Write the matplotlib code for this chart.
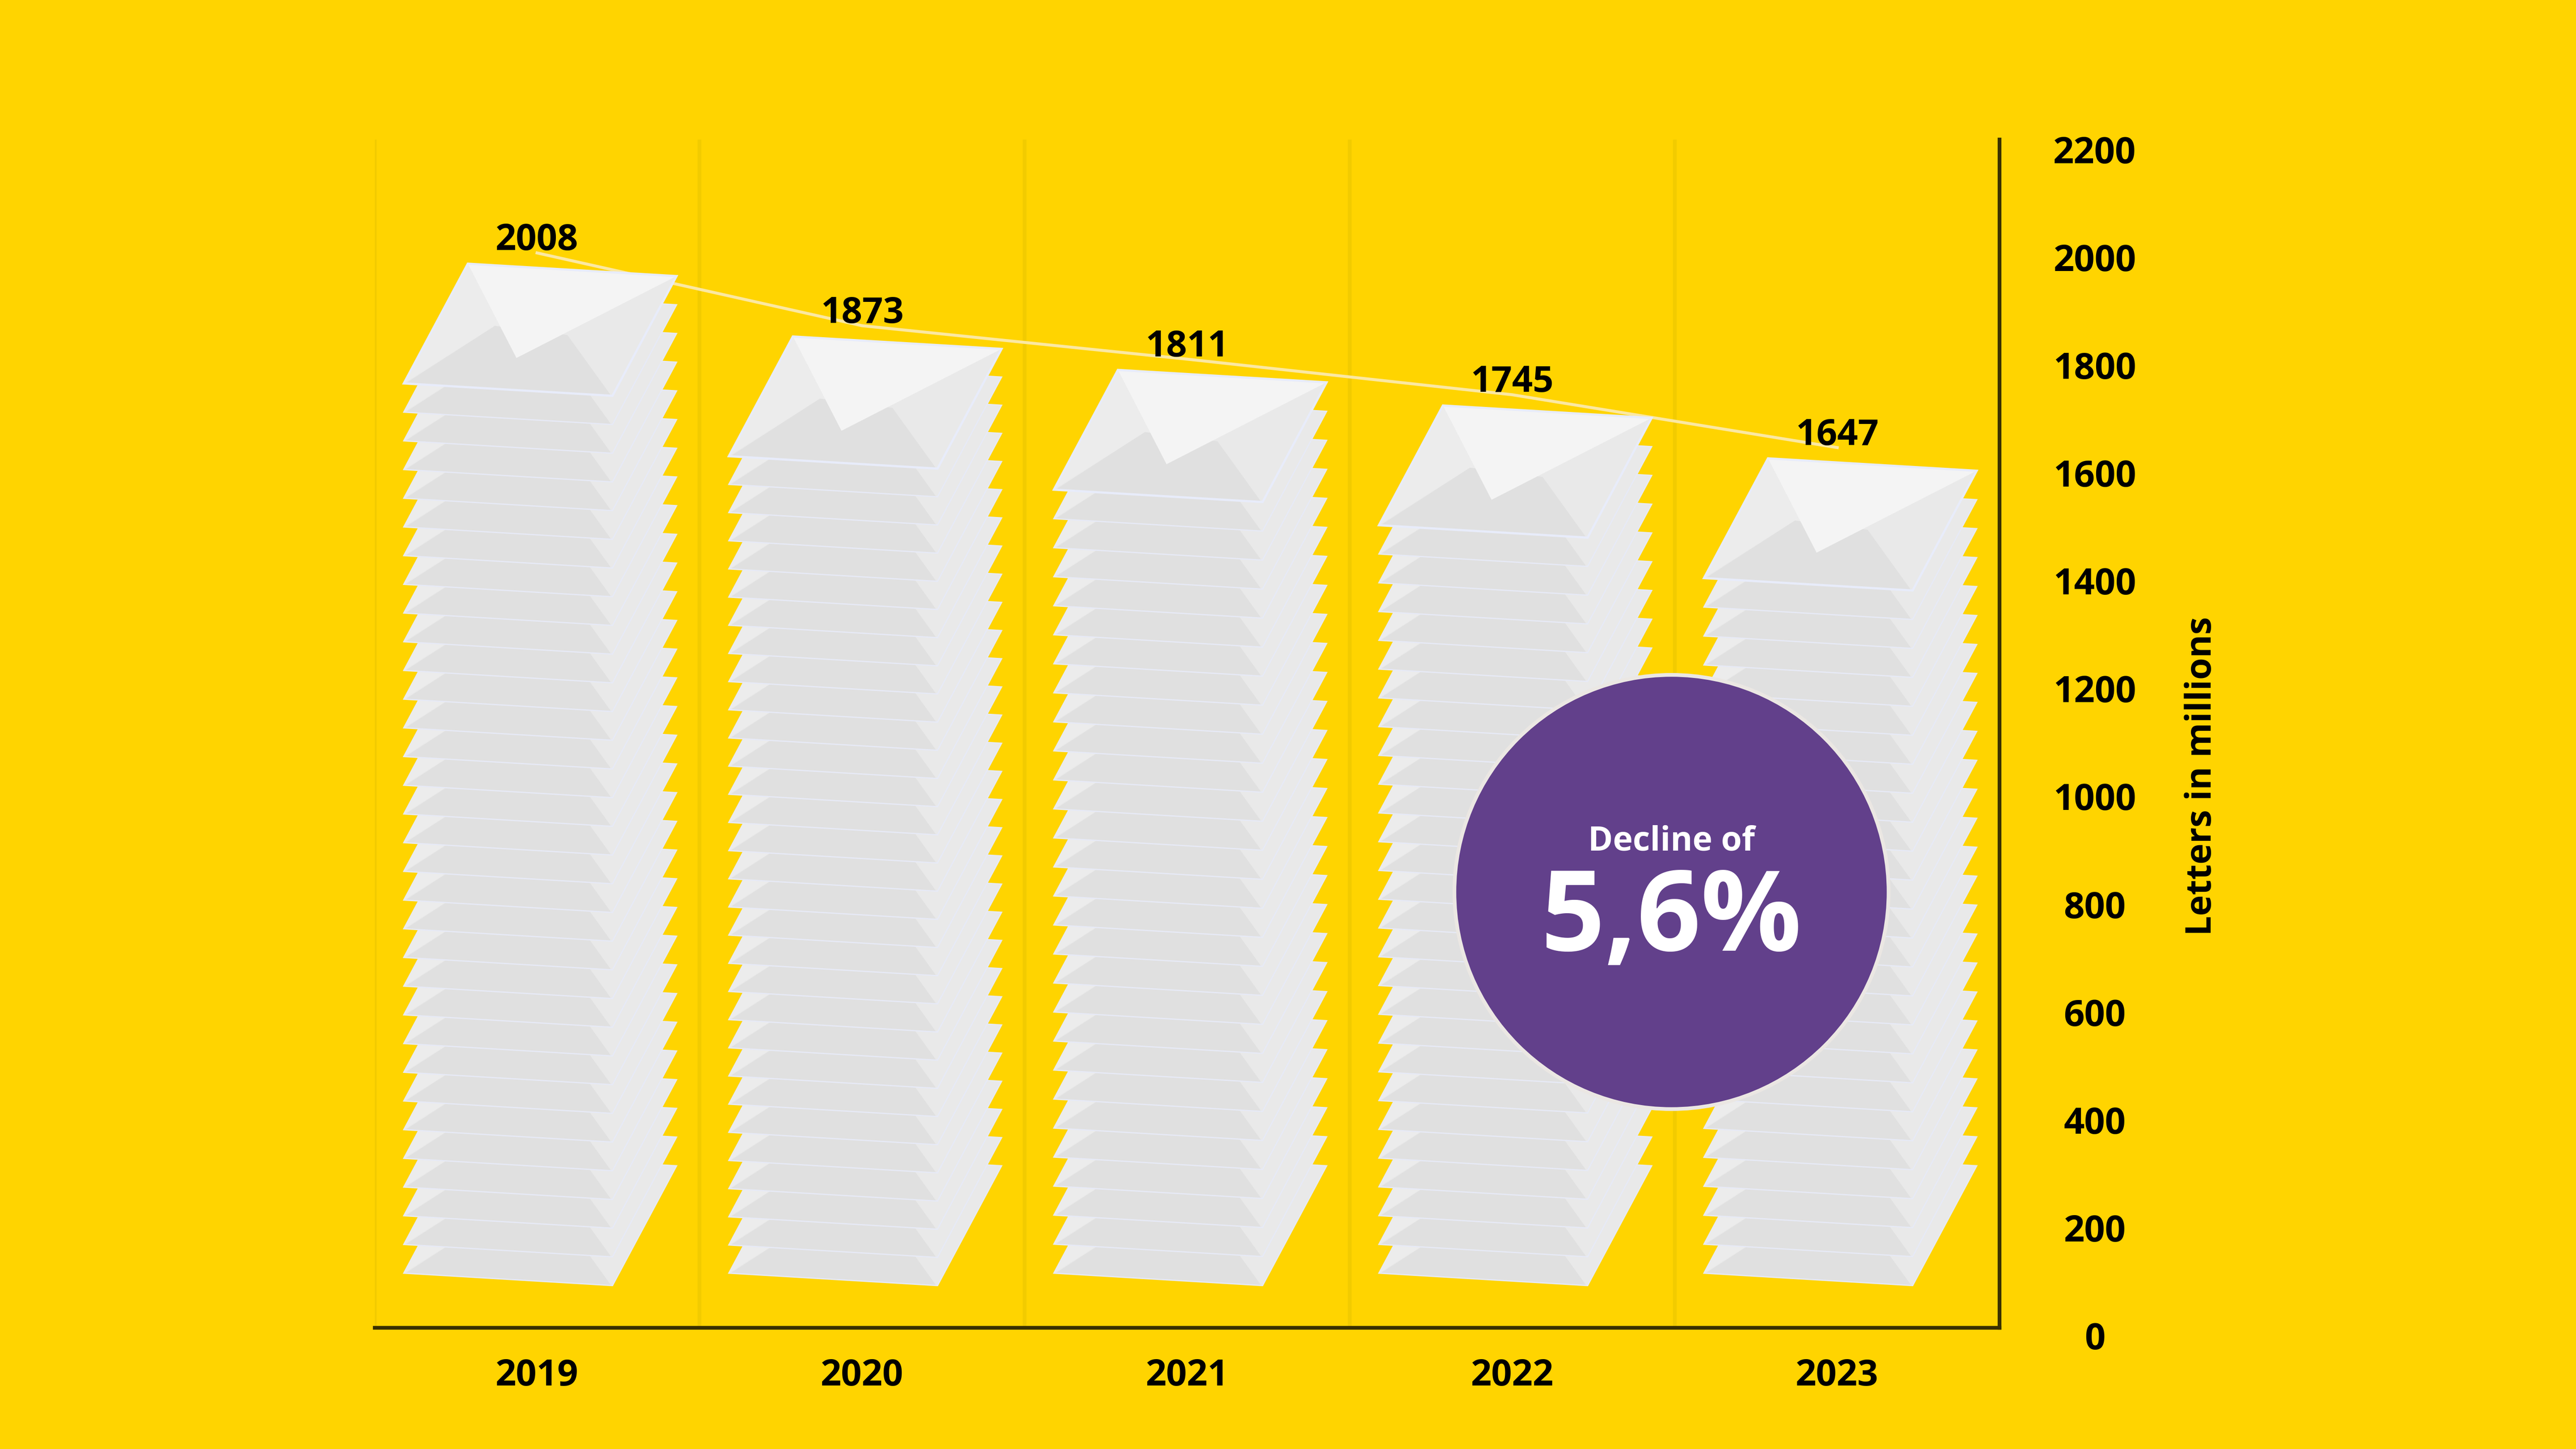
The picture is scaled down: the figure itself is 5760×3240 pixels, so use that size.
import numpy as np
import matplotlib
matplotlib.use("Agg")  # no display
import matplotlib.pyplot as plt
from matplotlib.patches import Polygon

# data
years = ["2019", "2020", "2021", "2022", "2023"]
letters = [2008, 1873, 1811, 1745, 1647]   # letters in millions
y_ticks = [0, 200, 400, 600, 800, 1000, 1200, 1400, 1600, 1800, 2000, 2200]
decline_text = "5,6%"

BG = "#ffd400"
PURPLE = "#62408b"

plt.rcParams["font.family"] = ["Open Sans", "DejaVu Sans"]
plt.rcParams["font.weight"] = "bold"

# envelope geometry in data units (x: category units, y: millions)
X0 = -0.41                       # front-left corner relative to category centre
W = np.array([0.642, -23.0])     # front edge vector
D = np.array([0.197, 222.0])     # depth vector (front -> back)
BASE = 116                       # front-left corner of lowest envelope
STEP = 53                        # approx. vertical spacing of envelopes
Y_TOP = 2218                     # top of the right spine
Y_FLOOR = 15                     # where the bottom spine sits


def env_poly(p0, uv, **kw):
    pts = [p0 + u * W + t * D for u, t in uv]
    return Polygon(pts, closed=True, **kw)


def draw_envelope(ax, p0, top=False):
    ax.add_patch(env_poly(p0, [(0, 0), (1, 0), (1, 1), (0, 1)],
                          facecolor="#e9e9e9", edgecolor="#e7eaf6", lw=0.7, zorder=3))
    # left side flap a bit lighter
    ax.add_patch(env_poly(p0, [(0, 0), (0, 1), (0.46, 0.26), (0.28, 0.51)],
                          facecolor="#ececec", edgecolor="none", zorder=3))
    # bottom flap
    ax.add_patch(env_poly(p0, [(0.01, 0.005), (0.99, 0.005), (0.64, 0.47), (0.28, 0.51)],
                          facecolor="#e0e0e0", edgecolor="none", zorder=3))
    if top:
        # closed back flap
        ax.add_patch(env_poly(p0, [(0, 1), (1, 1), (0.46, 0.26)],
                              facecolor="#f4f4f4", edgecolor="none", zorder=3))
        ax.add_patch(env_poly(p0, [(0, 0), (1, 0), (1, 1), (0, 1)],
                              facecolor="none", edgecolor="#e8ecfa", lw=1.2, zorder=3))


fig = plt.figure(figsize=(19.2, 10.8), dpi=300, facecolor=BG)
ax = fig.add_axes([0.1454, 0.0782, 0.6309, 0.8254])
ax.set_facecolor(BG)
ax.set_xlim(-0.5, 4.5)
ax.set_ylim(0, Y_TOP)

# category separators
ax.vlines(np.arange(-0.5, 4.0, 1.0), Y_FLOOR, Y_TOP, color="#f2cb00", lw=2.0, zorder=0)

# trend line behind the stacks
ax.plot(range(len(years)), letters, color="#fbe8a2", lw=1.6, zorder=2)

for i, v in enumerate(letters):
    top_y = v - 20 - D[1]
    n = int(round((top_y - BASE) / STEP)) + 1
    for k, y0 in enumerate(np.linspace(BASE, top_y, n)):
        draw_envelope(ax, np.array([i + X0, y0]), top=(k == n - 1))
    ax.annotate(f"{v}", (i, v), xytext=(0, 1.5), textcoords="offset points",
                ha="center", va="baseline", fontsize=19.5, fontweight="bold",
                color="black", zorder=5)

# axes styling
ax.set_xticks(range(len(years)), years)
ax.set_yticks(y_ticks)
ax.tick_params(axis="x", which="both", length=0, pad=16.5, labelsize=19.5)
ax.tick_params(axis="y", which="both", length=0, left=False, right=False,
               labelleft=False, labelright=True, pad=51, labelsize=19.5)
plt.setp(ax.get_yticklabels(), ha="center")

for side in ["left", "top"]:
    ax.spines[side].set_visible(False)
for side in ["right", "bottom"]:
    ax.spines[side].set_color("#3a3000")
    ax.spines[side].set_linewidth(2.0)
ax.spines["bottom"].set_position(("data", Y_FLOOR))
ax.spines["right"].set_bounds(Y_FLOOR, Y_TOP)

ax.text(1.1244, 0.468, "Letters in millions", rotation=90, transform=ax.transAxes,
        ha="center", va="center", fontsize=19, fontweight="bold")

# decline badge
ax.plot([3.49], [823], "o", ms=233, mfc=PURPLE, mec="#ebe7e3", mew=2,
        zorder=6, clip_on=False)
ax.annotate("Decline of", (3.49, 823), xytext=(0, 27), textcoords="offset points",
            ha="center", va="center", fontsize=18, color="white", zorder=7)
ax.annotate(decline_text, (3.49, 823), xytext=(0, -16), textcoords="offset points",
            ha="center", va="center", fontsize=60, color="white", zorder=7)

fig.savefig("out.png", dpi=300, facecolor=BG)
plt.close(fig)
